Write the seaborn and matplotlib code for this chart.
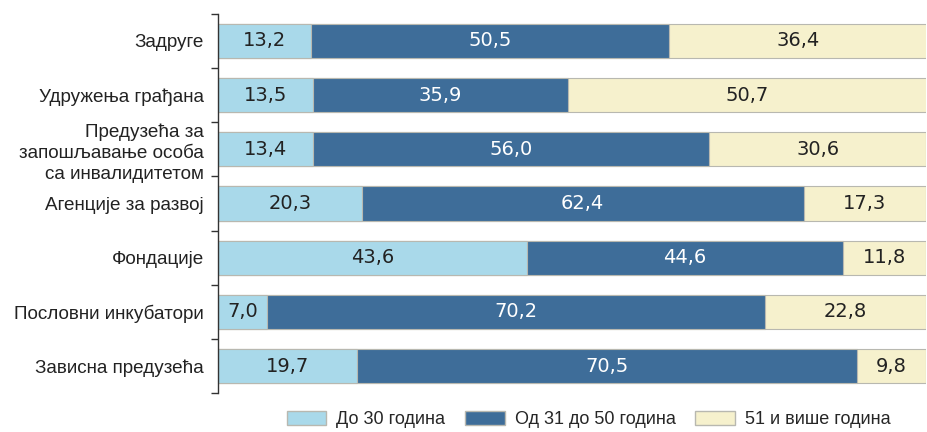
import matplotlib
matplotlib.use("Agg")
import matplotlib.pyplot as plt
import seaborn as sns
import numpy as np
import pandas as pd
from matplotlib.patches import Patch

categories = ["Задруге", "Удружења грађана", "Предузећа за\nзапошљавање особа\nса инвалидитетом",
              "Агенције за развој", "Фондације", "Пословни инкубатори", "Зависна предузећа"]
under30 = [13.2, 13.5, 13.4, 20.3, 43.6, 7.0, 19.7]
mid31_50 = [50.5, 35.9, 56.0, 62.4, 44.6, 70.2, 70.5]
over51 = [36.4, 50.7, 30.6, 17.3, 11.8, 22.8, 9.8]
series_names = ["До 30 година", "Од 31 до 50 година", "51 и више година"]
colors = ["#a9d9ea", "#3e6d99", "#f6f1cd"]

sns.set_theme(style="white")
plt.rcParams['font.family'] = ['Liberation Sans', 'DejaVu Sans']

df = pd.DataFrame({"cat": categories, "a": under30, "b": mid31_50, "c": over51})
df["cum1"] = df["a"]
df["cum2"] = df["a"] + df["b"]
df["cum3"] = df["a"] + df["b"] + df["c"]

fig = plt.figure(figsize=(9.27, 4.32), dpi=100)
ax = fig.add_axes([0.235, 0.09, 0.764, 0.878])

for col, c in zip(["cum3", "cum2", "cum1"], colors[::-1]):
    sns.barplot(data=df, x=col, y="cat", color=c, width=0.63, ax=ax,
                edgecolor="#b8b8b0", linewidth=0.8, saturation=1, orient="h")

for i in range(len(categories)):
    starts = [0, df["cum1"][i], df["cum2"][i]]
    vals = [under30[i], mid31_50[i], over51[i]]
    for j, (s, v) in enumerate(zip(starts, vals)):
        txt = f"{v:.1f}".replace(".", ",")
        ax.text(s + v / 2, i, txt, ha="center", va="center", fontsize=14,
                family=['DejaVu Sans'],
                color="white" if j == 1 else "#222222")

ax.set_xlim(0, 100)
ax.set_ylim(len(categories) - 0.5, -0.5)
ax.set_xlabel("")
ax.set_ylabel("")
ax.set_xticks([])
ax.set_yticks(range(len(categories)))
ax.set_yticklabels(categories, fontsize=13.6, color="#222222", linespacing=1.3)
ax.tick_params(axis="y", which="major", length=0, pad=10)
ax.set_yticks(np.arange(-0.5, len(categories)), minor=True)
ax.tick_params(axis="y", which="minor", length=5, width=1, color="#333333", left=True, direction="out")
for s in ["top", "right", "bottom"]:
    ax.spines[s].set_visible(False)
ax.spines["left"].set_color("#333333")
ax.spines["left"].set_linewidth(1)

handles = [Patch(facecolor=c, edgecolor="#b8b8b0", label=n) for c, n in zip(colors, series_names)]
fig.legend(handles=handles, loc="center", bbox_to_anchor=(0.635, 0.028), ncol=3,
           frameon=False, fontsize=13, handlelength=2.2, handleheight=0.75, columnspacing=1.1,
           handletextpad=0.55, borderpad=0)

fig.savefig("out.png", dpi=100)
